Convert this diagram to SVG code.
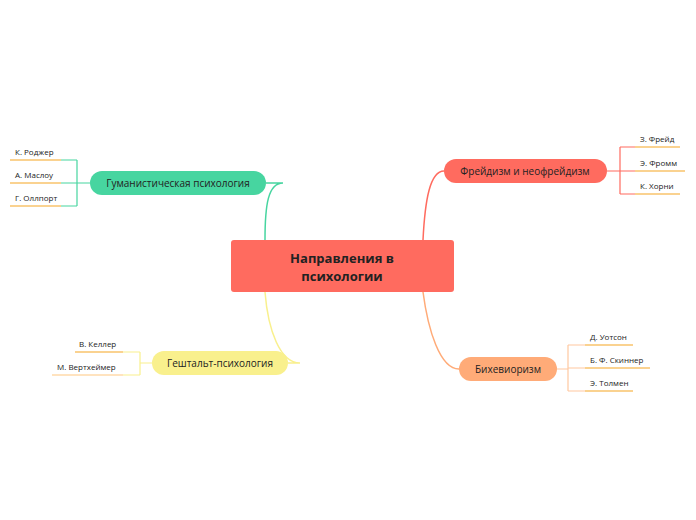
<svg xmlns="http://www.w3.org/2000/svg" width="696" height="520" viewBox="0 0 696 520">
<style>
text{font-family:"Open Sans","Noto Sans",sans-serif;fill:#222}
.n{font-size:10px;text-anchor:middle}
.s{font-size:8px}
.c{fill:none;stroke-width:1.5}
.u{fill:none;stroke-width:1.2}
</style>
<rect width="696" height="520" fill="#fff"/>
<g id="connectors">
<path class="c" stroke="#47d5a0" d="M265,240 C265,205 268,183 283,183 L266,183"/>
<path class="c" stroke="#ff6b5f" d="M423,240 C425,200 430,171 444,171"/>
<path class="c" stroke="#f9f08d" d="M265,292 C268,330 280,363 300,363 L288,363"/>
<path class="c" stroke="#ffab78" d="M423,292 C428,330 440,369 459,369"/>
<path class="u" stroke="#47d5a0" d="M90,183 H77 M77,160 V206 M61,160 H77 M61,183 H77 M77,206 H61"/>
<path class="u" stroke="#f5a623" d="M10,160 H61 M10,183 H61 M10,206 H61"/>
<path class="u" stroke="#ff6b5f" d="M607,171 H620 M620,147 V194 M620,147 H635 M620,171 H635 M620,194 H635"/>
<path class="u" stroke="#f5a623" d="M635,147 H680 M635,171 H685 M635,194 H680"/>
<path class="u" stroke="#f9f08d" d="M152,363 H140 M140,352 V375 M123,352 H140 M123,375 H140"/>
<path class="u" stroke="#f5a623" d="M75,352 H123"/>
<path class="u" stroke="#ffc880" d="M52,375 H123"/>
<path class="u" stroke="#ffc8a0" d="M459,369 H568 M568,345 V391 M568,345 H585 M568,368 H585 M568,391 H585"/>
<path class="u" stroke="#f5a623" d="M585,345 H633 M585,368 H650 M585,391 H633"/>
</g>
<g id="center"><rect x="231" y="240" width="223" height="52" rx="3" fill="#ff6b5f"/>
<text x="342" y="263" font-size="13" font-weight="bold" text-anchor="middle">Направления в</text>
<text x="342" y="281" font-size="13" font-weight="bold" text-anchor="middle">психологии</text></g>
<g id="humanistic"><rect x="90" y="171" width="176" height="24" rx="12" fill="#47d5a0"/><text class="n" x="178" y="187">Гуманистическая психология</text></g>
<g id="freud"><rect x="444" y="159" width="163" height="24" rx="12" fill="#ff6b5f"/><text class="n" x="525" y="175">Фрейдизм и неофрейдизм</text></g>
<g id="gestalt"><rect x="152" y="351" width="136" height="24" rx="12" fill="#f9f08d"/><text class="n" x="220" y="367">Гештальт-психология</text></g>
<g id="behav"><rect x="459" y="357" width="98" height="24" rx="12" fill="#ffab78"/><text class="n" x="508" y="373">Бихевиоризм</text></g>
<g id="leaves">
<text class="s" x="15" y="155">К. Роджер</text>
<text class="s" x="15" y="178">А. Маслоу</text>
<text class="s" x="15" y="201">Г. Оллпорт</text>
<text class="s" x="640" y="142">З. Фрейд</text>
<text class="s" x="640" y="166">Э. Фромм</text>
<text class="s" x="640" y="189">К. Хорни</text>
<text class="s" x="79" y="347">В. Келлер</text>
<text class="s" x="57" y="370">М. Вертхеймер</text>
<text class="s" x="590" y="340">Д. Уотсон</text>
<text class="s" x="590" y="363">Б. Ф. Скиннер</text>
<text class="s" x="590" y="386">Э. Толмен</text>
</g>
</svg>
